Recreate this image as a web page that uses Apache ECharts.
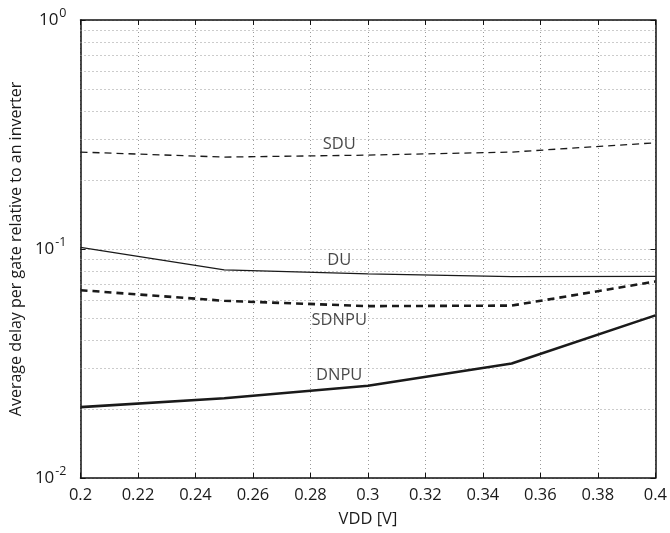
<!DOCTYPE html>
<html>
<head>
<meta charset="utf-8">
<script src="https://cdn.jsdelivr.net/npm/echarts@6/dist/echarts.min.js"></script>
<style>
html,body{margin:0;padding:0;background:#fff;}
#chart{width:670px;height:533px;}
</style>
</head>
<body>
<div id="chart"></div>
<script>
// ---- data ----
const vdd = [0.2, 0.25, 0.3, 0.35, 0.4];
const sdu   = [0.265, 0.252, 0.257, 0.265, 0.291];
const du    = [0.1017, 0.0810, 0.0779, 0.0758, 0.0760];
const sdnpu = [0.0661, 0.0594, 0.0563, 0.0566, 0.0721];
const dnpu  = [0.0204, 0.0223, 0.0253, 0.0316, 0.0513];
const seriesNames = ['SDU', 'DU', 'SDNPU', 'DNPU'];
const labelX = [0.29, 0.29, 0.29, 0.29];
const labelY = [0.286, 0.089, 0.0486, 0.028];
const xTickLabels = ['0.2','0.22','0.24','0.26','0.28','0.3','0.32','0.34','0.36','0.38','0.4'];
const yMinorGrid = [0.02,0.03,0.04,0.05,0.06,0.07,0.08,0.09,0.2,0.3,0.4,0.5,0.6,0.7,0.8,0.9];
const yTickExp = {'0.01':'-2','0.1':'-1','1':'0'};

const pts = ys => vdd.map((x,i)=>[x, ys[i]]);
const font = 'Open Sans';
const txt = '#1a1a1a';
const gridLine = {show:true, lineStyle:{color:'#999', type:[1,3], width:1}};

const chart = echarts.init(document.getElementById('chart'), null, {renderer:'canvas'});
const styles = [
  {width:1.3, type:[7,5]},
  {width:1.2, type:'solid'},
  {width:2.6, type:[7,5]},
  {width:2.6, type:'solid'}
];
const allData = [sdu, du, sdnpu, dnpu];

const series = allData.map((d,i)=>({
  name: seriesNames[i], type:'line', data: pts(d), showSymbol:false, symbol:'none',
  lineStyle:{color:'#1a1a1a', width:styles[i].width, type:styles[i].type},
  z: 5, silent:true, animation:false
}));
series[0].markLine = {
  silent:true, symbol:'none', animation:false,
  label:{show:false},
  lineStyle:{color:'#999', type:[1,3], width:1},
  data: yMinorGrid.map(v=>({yAxis:v}))
};
series.push({
  type:'scatter', symbolSize:0, silent:true, animation:false,
  data: labelX.map((x,i)=>({value:[x, labelY[i]], name: seriesNames[i]})),
  label:{show:true, position:'inside', formatter: p=>p.name, fontFamily:font, fontSize:16.5, color:txt},
  z: 6
});

chart.setOption({
  animation:false,
  backgroundColor:'#fff',
  grid:{left:78, right:9, top:20, bottom:53},
  xAxis:[{
    type:'value', min:0.2, max:0.4, interval:0.02,
    name:'VDD [V]', nameLocation:'middle', nameGap:33,
    nameTextStyle:{fontFamily:font, fontSize:16.5, color:txt},
    axisLine:{show:true, lineStyle:{color:'#111', width:1.5}},
    axisTick:{show:true, inside:true, length:5, lineStyle:{color:'#111'}},
    axisLabel:{fontFamily:font, fontSize:16.5, color:txt, margin:9,
      formatter:(v,i)=>xTickLabels[i] !== undefined ? xTickLabels[i] : ''},
    splitLine: gridLine
  },{
    type:'value', position:'top', min:0.2, max:0.4, interval:0.02,
    axisLine:{show:true, lineStyle:{color:'#111', width:1.5}},
    axisTick:{show:true, inside:true, length:5, lineStyle:{color:'#111'}},
    axisLabel:{show:false}, splitLine:{show:false}
  }],
  yAxis:[{
    type:'log', logBase:10, min:0.01, max:1,
    name:'Average delay per gate relative to an inverter', nameLocation:'middle', nameGap:56,
    nameTextStyle:{fontFamily:font, fontSize:16, color:txt},
    axisLine:{show:true, lineStyle:{color:'#111', width:1.5}},
    axisTick:{show:true, inside:true, length:5, lineStyle:{color:'#111'}},
    axisLabel:{fontFamily:font, fontSize:17, color:txt, margin:14,
      formatter: v => '10{sup|' + (yTickExp[String(+v.toPrecision(3))] || '') + '}',
      rich:{sup:{fontSize:12.5, verticalAlign:'bottom', padding:[0,0,14,1], fontFamily:font, color:txt}}},
    splitLine: gridLine
  },{
    type:'log', logBase:10, min:0.01, max:1, position:'right',
    axisLine:{show:true, lineStyle:{color:'#111', width:1.5}},
    axisTick:{show:true, inside:true, length:5, lineStyle:{color:'#111'}},
    axisLabel:{show:false}, splitLine:{show:false}
  }],
  series: series
});
</script>
</body>
</html>
